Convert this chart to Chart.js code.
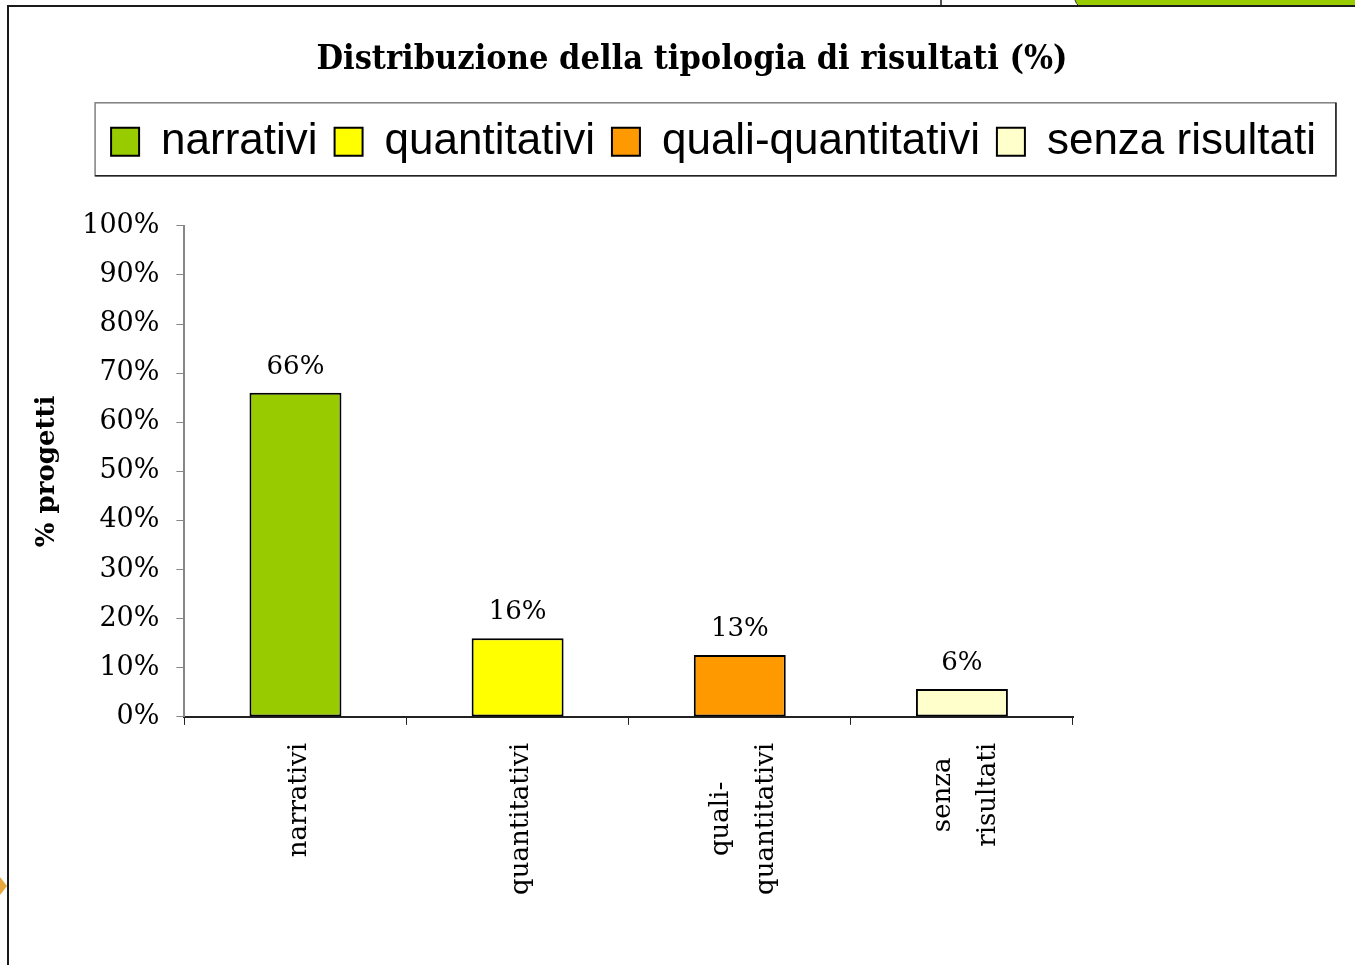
<!DOCTYPE html>
<html>
<head>
<meta charset="utf-8">
<script src="https://cdn.jsdelivr.net/npm/chart.js@4.4.0/dist/chart.umd.min.js"></script>
<style>
    html, body { margin: 0; padding: 0; background: #fff; }
</style>
</head>
<body>
<canvas id="result_chart" width="1355" height="965"></canvas>
<script>
const categories = ['narrativi', 'quantitativi', 'quali-quantitativi', 'senza risultati'];
const axisLabels = [['narrativi'], ['quantitativi'], ['quali-', 'quantitativi'], ['senza', 'risultati']];
const percentages = [66, 16, 12.6, 5.7];
const barColors = ['#99cc00', '#ffff00', '#ff9900', '#ffffcc'];

const serif = '"DejaVu Serif", serif';

// slide decorations around the chart (frame, green tab, orange arrow)
const pageFrame = {
    id: 'pageFrame',
    beforeDraw(chart) {
        const c = chart.ctx;
        c.save();
        c.fillStyle = '#99cc00';
        c.beginPath();
        c.moveTo(1075, 0);
        c.lineTo(1355, 0);
        c.lineTo(1355, 6);
        c.lineTo(1079, 6);
        c.quadraticCurveTo(1076, 4, 1075, 0);
        c.fill();
        c.strokeStyle = '#333';
        c.lineWidth = 1;
        c.beginPath();
        c.moveTo(1075, 0);
        c.quadraticCurveTo(1076, 4, 1079, 6);
        c.stroke();

        c.strokeStyle = '#1a1a1a';
        c.lineWidth = 2;
        c.beginPath();
        c.moveTo(8, 965);
        c.lineTo(8, 6);
        c.lineTo(1355, 6);
        c.stroke();
        c.lineWidth = 1.5;
        c.beginPath();
        c.moveTo(941, 0);
        c.lineTo(941, 6);
        c.stroke();

        c.fillStyle = '#e8a73c';
        c.beginPath();
        c.moveTo(0, 877);
        c.lineTo(7, 886);
        c.lineTo(0, 895);
        c.fill();
        c.restore();
    }
};

// place title / legend over the whole slide and draw the legend frame
const legendFrame = {
    id: 'legendFrame',
    beforeLayout(chart) {
        const legend = chart.legend;
        if (legend && !legend._patched) {
            const fit = legend.fit;
            legend.fit = function () {
                this.maxWidth = chart.width;
                fit.call(this);
                this.height += 52;
            };
            legend._patched = true;
        }
    },
    afterLayout(chart) {
        const t = chart.titleBlock;
        t.left = 0; t.right = 1384; t.width = 1384;
        const l = chart.legend;
        l.left = 36; l.right = 36 + 1355; l.width = 1355;
    },
    afterDraw(chart) {
        const boxes = chart.legend.legendHitBoxes;
        if (!boxes || !boxes.length) return;
        const left = Math.min(...boxes.map(b => b.left)) - 16;
        const right = Math.max(...boxes.map(b => b.left + b.width)) + 20;
        const mid = boxes[0].top + boxes[0].height / 2;
        const c = chart.ctx;
        c.save();
        c.lineWidth = 1.5;
        c.strokeStyle = '#7f7f7f';
        c.strokeRect(left, mid - 39, right - left, 73);
        c.strokeStyle = '#222';
        c.beginPath();
        c.moveTo(right, mid - 39);
        c.lineTo(right, mid + 34);
        c.lineTo(left, mid + 34);
        c.stroke();
        c.restore();
    }
};

const valueLabels = {
    id: 'valueLabels',
    afterDatasetsDraw(chart) {
        const c = chart.ctx;
        const meta = chart.getDatasetMeta(0);
        c.save();
        c.font = '26px ' + serif;
        c.fillStyle = '#000';
        c.textAlign = 'center';
        c.textBaseline = 'alphabetic';
        meta.data.forEach((bar, i) => {
            c.fillText(Math.round(percentages[i]) + '%', bar.x, bar.y - 19);
        });
        c.restore();
    }
};

// rotated category labels, lines centred inside the label block
const xLabels = {
    id: 'xLabels',
    afterDraw(chart) {
        const x = chart.scales.x;
        const c = chart.ctx;
        c.save();
        c.font = '26px ' + serif;
        c.fillStyle = '#000';
        c.textAlign = 'center';
        c.textBaseline = 'middle';
        axisLabels.forEach((lines, i) => {
            const px = x.getPixelForValue(i);
            const w = Math.max(...lines.map(l => c.measureText(l).width));
            const cy = x.top + 26 + w / 2;
            lines.forEach((line, j) => {
                const off = (j - (lines.length - 1) / 2) * 45 + 4;
                c.save();
                c.translate(px + off, cy);
                c.rotate(-Math.PI / 2);
                c.fillText(line, 0, 0);
                c.restore();
            });
        });
        c.restore();
    }
};

const ctx = document.getElementById('result_chart').getContext('2d');

new Chart(ctx, {
    type: 'bar',
    data: {
        labels: axisLabels,
        datasets: [{
            label: '% progetti',
            data: percentages,
            backgroundColor: barColors,
            borderColor: '#000',
            borderWidth: 2,
            borderSkipped: false,
            barPercentage: 0.414,
            categoryPercentage: 1
        }]
    },
    options: {
        responsive: false,
        animation: false,
        devicePixelRatio: 1,
        layout: {
            padding: { left: 16, right: 282, top: 0, bottom: 52 }
        },
        scales: {
            x: {
                grid: {
                    drawOnChartArea: false,
                    tickLength: 8,
                    color: '#222',
                    offset: true
                },
                border: { color: '#222', width: 2 },
                ticks: {
                    minRotation: 90,
                    maxRotation: 90,
                    padding: 18,
                    color: 'rgba(0,0,0,0)',
                    font: { family: serif, size: 26 }
                }
            },
            y: {
                min: 0,
                max: 100,
                grid: {
                    drawOnChartArea: false,
                    tickLength: 8,
                    color: '#868686'
                },
                border: { color: '#868686', width: 2 },
                ticks: {
                    stepSize: 10,
                    padding: 17,
                    color: '#000',
                    font: { family: serif, size: 27 },
                    callback: v => v + '%'
                },
                title: {
                    display: true,
                    text: '% progetti',
                    color: '#000',
                    font: { family: serif, size: 26, weight: 'bold' },
                    padding: { top: 16, bottom: 2 }
                }
            }
        },
        plugins: {
            title: {
                display: true,
                text: 'Distribuzione della tipologia di risultati (%)',
                color: '#000',
                font: { family: '"DejaVu Serif Condensed", ' + serif, size: 34, weight: 'bold' },
                padding: { top: 40, bottom: 22 }
            },
            legend: {
                display: true,
                position: 'top',
                labels: {
                    color: '#000',
                    boxWidth: 28,
                    boxHeight: 28,
                    padding: 17,
                    font: { family: '"Liberation Sans", Arial, sans-serif', size: 44 },
                    generateLabels: () => categories.map((name, i) => ({
                        text: name,
                        fillStyle: barColors[i],
                        strokeStyle: '#000',
                        lineWidth: 2,
                        hidden: false,
                        index: i,
                        datasetIndex: 0
                    }))
                }
            },
            tooltip: { enabled: false }
        }
    },
    plugins: [pageFrame, legendFrame, valueLabels, xLabels]
});
</script>
</body>
</html>
